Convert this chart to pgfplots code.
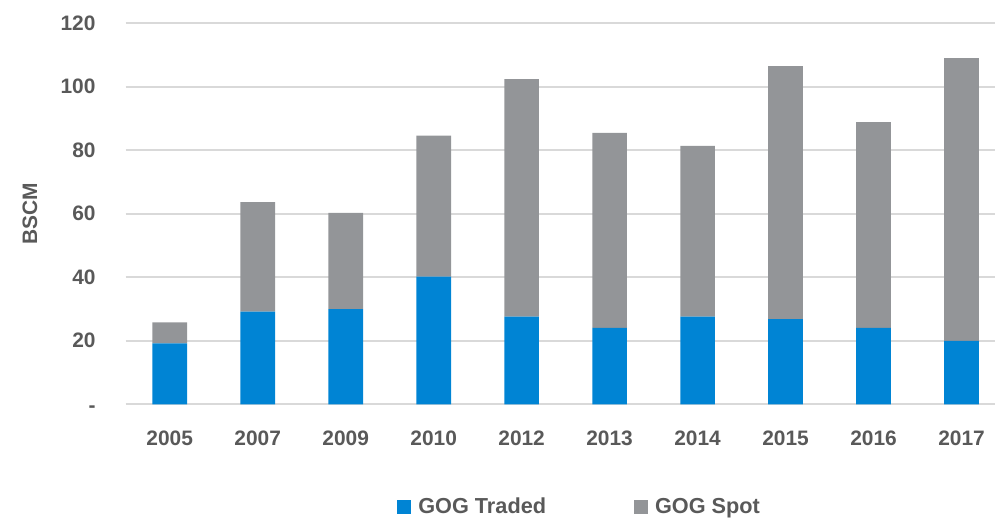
\documentclass[border=0pt]{standalone}
\usepackage{fontspec}
\setmainfont{Liberation Sans}
\usepackage{pgfplots}
\pgfplotsset{compat=1.18}
\definecolor{gogblue}{HTML}{0084D4}
\definecolor{goggray}{HTML}{939598}
\definecolor{gridgray}{HTML}{D9D9D9}
\definecolor{txt}{HTML}{595959}
\newcommand{\cf}{\fontsize{20.9bp}{24bp}\selectfont\bfseries\color{txt}}
\newcommand{\lf}{\fontsize{21.7bp}{24bp}\selectfont\bfseries\color{txt}}
\begin{document}
\begin{tikzpicture}
\begin{axis}[
  name=ax,
  scale only axis,
  width=869.3bp, height=381bp,
  ybar stacked, bar width=34.7bp,
  xmin=-0.5, xmax=9.38,
  ymin=0, ymax=120,
  xtick={0,...,9},
  xticklabels={2005,2007,2009,2010,2012,2013,2014,2015,2016,2017},
  ytick={0,20,40,60,80,100,120},
  yticklabels={\raisebox{-8.6bp}[0pt][0pt]{-},20,40,60,80,100,120},
  major tick length=0pt,
  axis line style={draw=none},
  ymajorgrids, major grid style={line width=2bp, color=gridgray},
  tick label style={font=\cf, inner sep=0pt},
  x tick label style={anchor=north, yshift=-26bp},
  y tick label style={anchor=east, xshift=-30bp},
  ylabel={BSCM},
  ylabel style={font=\cf, at={(axis description cs:-0.1101,0.5)}, anchor=center},
  clip=false,
  legend columns=2,
  legend style={draw=none, fill=none, font=\lf, at={(axis description cs:0.521,-0.269)}, anchor=center,
    /tikz/every even column/.append style={column sep=88bp},
    inner sep=0pt, nodes={inner sep=0pt}},
]
\addplot[fill=gogblue, draw=none,
  legend image code/.code={\fill[gogblue] (0bp,-7bp) rectangle (14bp,7bp); \path (21bp,0bp);}] coordinates {
 (0,19.2) (1,29.2) (2,30.0) (3,40.2) (4,27.6) (5,24.1) (6,27.6) (7,26.8) (8,24.1) (9,20.0)};
\addlegendentry{GOG Traded}
\addplot[fill=goggray, draw=none,
  legend image code/.code={\fill[goggray] (0bp,-7bp) rectangle (14bp,7bp); \path (21bp,0bp);}] coordinates {
 (0,6.6) (1,34.5) (2,30.3) (3,44.4) (4,74.8) (5,61.4) (6,53.8) (7,79.7) (8,64.8) (9,89.0)};
\addlegendentry{GOG Spot}
\end{axis}
\pgfresetboundingbox
\path ([shift={(-125.7bp,-117.7bp)}]ax.south west) rectangle ([shift={(0bp,23.3bp)}]ax.north east);
\end{tikzpicture}
\end{document}
